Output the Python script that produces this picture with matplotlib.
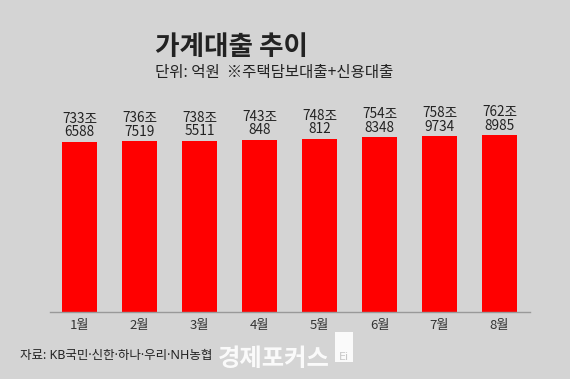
import matplotlib
matplotlib.use("Agg")
import matplotlib.pyplot as plt
from matplotlib.patches import Rectangle

plt.rcParams['font.family'] = ['Noto Sans CJK KR', 'DejaVu Sans']

months = ['1월', '2월', '3월', '4월', '5월', '6월', '7월', '8월']
jo = [733, 736, 738, 743, 748, 754, 758, 762]
eok = [6588, 7519, 5511, 848, 812, 8348, 9734, 8985]
values = [j + e / 10000 for j, e in zip(jo, eok)]
labels = [f"{j}조\n{e}" for j, e in zip(jo, eok)]

W, H = 570, 379
bg = '#d4d4d4'
fig = plt.figure(figsize=(W / 100, H / 100), dpi=100, facecolor=bg)

ax = fig.add_axes([50 / W, (H - 312) / H, 480 / W, 212 / H])
ax.set_facecolor(bg)
x = list(range(len(months)))
bars = ax.bar(x, values, width=0.583, color='#ff0000', zorder=2)
ax.set_xlim(-0.492, 7.508)
ax.set_ylim(0, 916)
for s in ['top', 'left', 'right']:
    ax.spines[s].set_visible(False)
ax.spines['bottom'].set_color('#999999')
ax.spines['bottom'].set_linewidth(1.0)
ax.set_yticks([])
ax.set_xticks(x)
ax.set_xticklabels(months, fontsize=9.5, color='#333333')
ax.tick_params(axis='x', length=0, pad=5)

for xi, v, lab in zip(x, values, labels):
    ax.annotate(lab, (xi, v), xytext=(0, 2), textcoords='offset points',
                ha='center', va='bottom', fontsize=9.8, color='#222222',
                linespacing=0.95)

fig.text(155 / W, 1 - 55 / H, '가계대출 추이', fontsize=19.2, fontweight='bold',
         color='#222222', ha='left', va='baseline')
fig.text(155 / W, 1 - 77 / H, '단위: 억원  ※주택담보대출+신용대출', fontsize=11.2,
         color='#222222', ha='left', va='baseline')
fig.text(20 / W, 1 - 359 / H, '자료: KB국민·신한·하나·우리·NH농협', fontsize=9,
         color='#222222', ha='left', va='baseline',
         family=['Noto Sans', 'Noto Sans CJK KR'])

# watermark
fig.text(218 / W, 1 - 366 / H, '경제포커스', fontsize=17.5, fontweight='bold',
         color='white', alpha=0.9, ha='left', va='baseline')
fig.patches.append(Rectangle((335 / W, 1 - 362 / H), 18 / W, 30 / H,
                             transform=fig.transFigure, facecolor='white',
                             alpha=0.9, edgecolor='none'))
fig.text(344 / W, 1 - 360 / H, 'Ei', fontsize=8, color='#c8c8c8',
         ha='center', va='baseline', family='DejaVu Sans')

fig.savefig('out.png', dpi=100, facecolor=bg)
